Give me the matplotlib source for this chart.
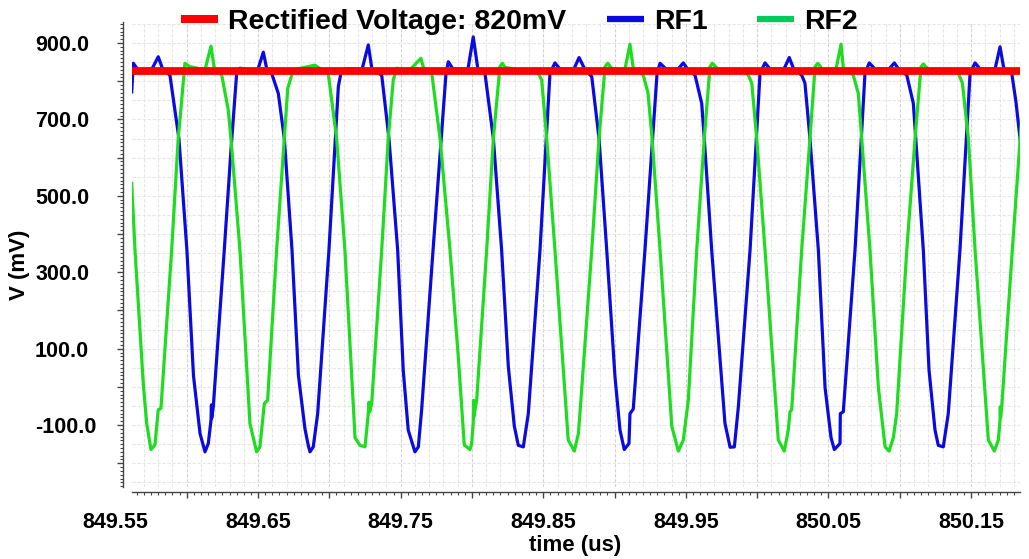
import numpy as np
import matplotlib
matplotlib.use("Agg")
import matplotlib.pyplot as plt
from matplotlib.lines import Line2D
from matplotlib.ticker import MultipleLocator, FuncFormatter

# transient sim, times are ns after t0 (us), voltages in mV
t0 = 849.55

rf1_ns = [11.4, 12.5, 16.0, 25.6, 30.0, 33.3, 38.2,
          44.5, 50.1, 54.7, 59.3, 62.8, 65.1, 67.0, 67.3, 67.5, 68.6, 76.3, 81.0, 85.0,
          87.3, 94.3, 99.9, 103.7, 106.2, 109.5, 114.2,
          118.4, 123.8, 128.3, 132.9, 135.2, 136.4, 138.7, 141.8, 149.7, 156.3, 158.1,
          160.9, 164.5, 172.9, 177.3, 179.9, 186.7,
          191.8, 197.9, 201.8, 205.3, 210.0, 212.4, 214.7, 222.7, 231.8,
          233.4, 236.7, 247.2, 250.9, 254.2, 259.1,
          265.0, 270.8, 275.5, 279.7, 282.5, 286.0, 289.5, 297.7, 304.7,
          308.2, 311.7, 321.5, 325.1, 329.3, 334.0,
          339.1, 344.5, 350.3, 353.8, 356.8, 360.1, 360.8, 363.1, 371.3, 379.8,
          381.9, 386.1, 394.5, 398.2, 401.5, 406.4, 411.1,
          412.9, 418.1, 427.4, 431.0, 434.0, 436.8, 445.0, 452.0,
          455.5, 459.0, 468.8, 472.5, 475.8, 481.2, 483.5,
          487.0, 492.9, 497.6, 501.8, 504.1, 508.1, 508.3, 510.4, 518.6, 525.6,
          528.6, 532.6, 542.5, 546.2, 549.5, 554.9, 559.5,
          561.4, 566.5, 570.5, 574.7, 577.0, 580.5, 584.0, 592.2, 599.3,
          602.8, 606.3, 616.8, 620.3, 623.1, 628.5, 631.5, 635.5]
rf1_mv = [772, 847, 829, 832, 864, 830, 816,
          650, 358, 30, -122, -170, -148, -87, -47, -82, -52, 358, 620, 821,
          834, 830, 831, 876, 830, 821, 768,
          650, 358, 30, -110, -153, -170, -157, -70, 358, 786, 821,
          832, 832, 831, 895, 830, 816,
          650, 358, 44, -113, -170, -157, -60, 358, 821,
          851, 832, 832, 916, 830, 821,
          650, 358, 53, -103, -153, -157, -70, 358, 821,
          848, 832, 832, 862, 830, 812,
          650, 358, 26, -113, -164, -148, -70, -58, 358, 821,
          847, 832, 832, 848, 830, 816, 742,
          650, 358, -95, -158, -157, -52, 358, 821,
          848, 832, 832, 862, 830, 816, 795,
          650, 358, -2, -133, -164, -148, -70, -65, 358, 821,
          848, 832, 832, 848, 830, 816, 742,
          640, 358, 44, -113, -153, -157, -70, 358, 821,
          848, 832, 832, 890, 830, 821, 745, 610]

rf2_ns = [11.4, 13.7, 19.5, 21.9, 24.9, 27.7, 30.0, 31.9, 39.4, 44.0, 45.2, 48.7,
          52.2, 62.8, 67.0, 69.3, 74.5, 79.1,
          81.0, 87.3, 94.3, 99.0, 101.3, 104.4, 106.7, 113.0, 118.4, 120.8, 124.7,
          139.9, 142.2, 149.2,
          155.1, 160.9, 168.0, 171.5, 175.0, 177.3, 177.8, 178.3, 179.7, 186.7, 191.3, 194.8, 197.2,
          206.5, 214.2, 216.3, 221.8,
          227.6, 234.6, 240.4, 244.6, 248.6, 249.8, 250.9, 251.1, 251.2, 253.3, 260.3, 265.0, 269.6,
          271.3, 273.2, 283.7, 295.4, 298.9,
          302.4, 308.2, 317.5, 321.8, 324.6, 325.8, 334.0, 339.1, 343.3,
          345.2, 348.2, 357.3, 360.8, 363.1, 370.1, 373.4,
          376.3, 381.9, 390.1, 394.7, 398.2, 401.7, 407.6, 412.9, 416.9,
          418.5, 422.5, 438.0, 443.8, 446.2,
          449.7, 455.5, 464.8, 469.0, 471.8, 473.0, 474.2, 481.2, 487.0, 490.6,
          492.5, 495.5, 505.3, 508.8, 510.4, 517.4, 520.9,
          523.3, 529.1, 535.0, 539.7, 542.5, 545.5, 547.8, 554.9, 560.7, 564.9,
          566.5, 569.8, 585.2, 591.0, 593.9,
          598.1, 602.8, 612.1, 616.3, 619.1, 620.3, 620.5, 620.7, 621.5, 628.9, 635.5]
rf2_mv = [533, 358, 9, -96, -164, -152, -60, -56, 358, 650, 698, 847,
          838, 830, 892, 834, 816, 725,
          650, 358, -96, -170, -157, -43, -35, 358, 650, 781, 830,
          842, 836, 821,
          650, 358, -133, -153, -157, -70, -40, -65, -43, 358, 650, 803, 834,
          830, 860, 832, 821,
          650, 358, 79, -152, -164, -148, -92, -35, -80, -35, 358, 650, 838,
          847, 836, 830, 829, 803,
          650, 358, -139, -168, -122, -65, 358, 650, 838,
          847, 832, 832, 897, 834, 816, 770,
          650, 358, -103, -168, -139, -35, 358, 650, 838,
          847, 832, 830, 816, 795,
          650, 358, -139, -168, -113, -65, -60, 358, 650, 838,
          847, 832, 832, 897, 834, 816, 768,
          650, 358, -2, -157, -168, -133, -70, 358, 650, 838,
          845, 832, 830, 821, 795,
          650, 358, -139, -168, -139, -87, -52, -80, -52, 358, 707]

rect_mv = 826
labels = ["Rectified Voltage: 820mV", "RF1", "RF2"]

rf1_t = t0 + np.array(rf1_ns) / 1000.0
rf2_t = t0 + np.array(rf2_ns) / 1000.0

W, H = 1029, 559
fig = plt.figure(figsize=(W / 100, H / 100), dpi=100)
ax = fig.add_axes([132 / W, 1 - 487 / H, (1020 - 132) / W, (487 - 22) / H])
x_lo, x_hi = t0 + 0.0116, t0 + 0.6343
ax.set_xlim(x_lo, x_hi)
ax.set_ylim(-262, 955)

# dashed background grid
for g in np.arange(849.56, 850.19, 0.01):
    dark = abs(round(g / 0.05) * 0.05 - g) < 1e-6
    ax.axvline(g, color='#d2d2d2' if dark else '#e6e6e6', lw=0.8, ls=(0, (3, 1.5)), zorder=0)
for g in np.arange(-250, 951, 50):
    ax.axhline(g, color='#e6e6e6', lw=0.8, ls=(0, (3, 1.5)), zorder=0)

ax.plot(rf1_t, rf1_mv, color='#0b0be0', lw=2.3, zorder=3)
ax.plot(rf2_t, rf2_mv, color='#20dc20', lw=2.3, zorder=3)
ax.plot([x_lo, x_hi], [rect_mv, rect_mv], color='#ff0000', lw=5.6, zorder=4, solid_capstyle='butt')

for s in ['top', 'right']:
    ax.spines[s].set_visible(False)
ax.spines['left'].set_position(('outward', 6.5))
ax.spines['bottom'].set_position(('outward', 3.6))
for s in ['left', 'bottom']:
    ax.spines[s].set_color('#444444')
    ax.spines[s].set_linewidth(1.0)

fnt = 'Liberation Sans'
ax.xaxis.set_major_locator(MultipleLocator(0.05))
ax.xaxis.set_minor_locator(MultipleLocator(0.005))
def xfmt(v, p):
    k = (v - 849.55) / 0.1
    return "%.2f" % v if abs(k - round(k)) < 1e-3 else ""
ax.xaxis.set_major_formatter(FuncFormatter(xfmt))
ax.yaxis.set_major_locator(MultipleLocator(100))
ax.yaxis.set_minor_locator(MultipleLocator(10))
def yfmt(v, p):
    return "%.1f" % v if int(round(v + 100)) % 200 == 0 else ""
ax.yaxis.set_major_formatter(FuncFormatter(yfmt))

ax.tick_params(axis='x', which='major', length=4.3, width=1, pad=10, colors='#444444',
               labelcolor='black', labelsize=15.5)
ax.tick_params(axis='x', which='minor', length=2.2, width=0.8, colors='#444444')
ax.tick_params(axis='y', which='major', length=4.3, width=1, pad=59, colors='#444444',
               labelcolor='black', labelsize=15.5)
ax.tick_params(axis='y', which='minor', length=2.2, width=0.8, colors='#444444')
for lbl in ax.get_xticklabels() + ax.get_yticklabels():
    lbl.set_fontfamily(fnt)
    lbl.set_fontweight('bold')
for lbl in ax.get_yticklabels():
    lbl.set_ha('left')

# first label sits left of the data window
fig.text(115.5 / W, 1 - 512 / H, "849.55", ha='center', va='top',
         fontsize=15.5, fontweight='bold', family=fnt)

fig.text(20 / W, 1 - 265 / H, "V (mV)", rotation=90, ha='center', va='center',
         fontsize=16, fontweight='bold', family=fnt)
fig.text(575 / W, 1 - 545 / H, "time (us)", ha='center', va='center',
         fontsize=16, fontweight='bold', family=fnt)

# legend entries placed one by one, spacing in the original is uneven
leg_colors = ['#ff0000', '#0b0be0', '#00cc5e']
leg_widths = [5.8, 4.5, 4.5]
leg_x = [181, 607, 757]
for lab, c, w, lx in zip(labels, leg_colors, leg_widths, leg_x):
    h = Line2D([], [], color=c, lw=w, solid_capstyle='butt')
    leg = fig.legend([h], [lab], loc='center left', bbox_to_anchor=(lx / W, 1 - 22 / H),
                     frameon=False, prop=dict(family=fnt, weight='bold', size=20.5),
                     handlelength=1.3, handletextpad=0.35, borderpad=0, borderaxespad=0)

fig.savefig("out.png", dpi=100)
